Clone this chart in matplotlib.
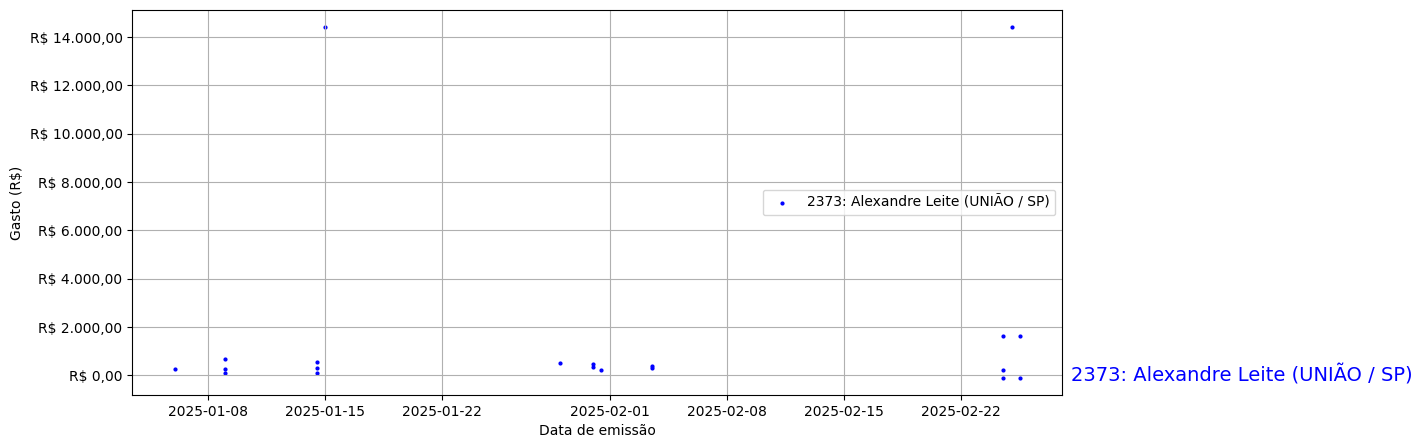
import pandas as pd
from matplotlib import pyplot as plt
from matplotlib import ticker
from matplotlib.transforms import blended_transform_factory

# notas emitidas (data de emissão e valor em R$)
datas = ['2025-01-06 00:00',
         '2025-01-09 00:00', '2025-01-09 00:00', '2025-01-09 00:00',
         '2025-01-14 12:00', '2025-01-14 12:00', '2025-01-14 12:00',
         '2025-01-15 00:00',
         '2025-01-29 00:00',
         '2025-01-31 00:00', '2025-01-31 00:00',
         '2025-01-31 12:00',
         '2025-02-03 12:00', '2025-02-03 12:00',
         '2025-02-24 12:00', '2025-02-24 12:00', '2025-02-24 12:00',
         '2025-02-25 00:00',
         '2025-02-25 12:00', '2025-02-25 12:00']
gastos = [250,
          670, 260, 100,
          570, 290, 85,
          14400,
          530,
          470, 365,
          200,
          370, 300,
          1610, 210, -95,
          14400,
          1610, -95]
deputado = '2373: Alexandre Leite (UNIÃO / SP)'

datas = pd.to_datetime(datas)


def formata_real(valor, pos):
    s = f'{valor:,.2f}'
    s = s.replace(',', 'X').replace('.', ',').replace('X', '.')
    return f'R$ {s}'


fig, ax = plt.subplots(figsize=(14.22, 4.48), dpi=100)
fig.subplots_adjust(left=0.093, right=0.747, top=0.978, bottom=0.118)

ax.scatter(datas, gastos, s=4, color='blue', label=deputado)
ax.yaxis.set_major_formatter(ticker.FuncFormatter(formata_real))
ax.set_xlabel('Data de emissão')
ax.set_ylabel('Gasto (R$)')
ax.grid(True)
ax.legend(loc='center right')

# nome do deputado ao lado do gráfico
trans = blended_transform_factory(ax.transAxes, ax.transData)
ax.text(1.009, 0, deputado, color='blue', fontsize=14, va='center', ha='left', transform=trans, clip_on=False)

plt.savefig('out.png', dpi=100)
